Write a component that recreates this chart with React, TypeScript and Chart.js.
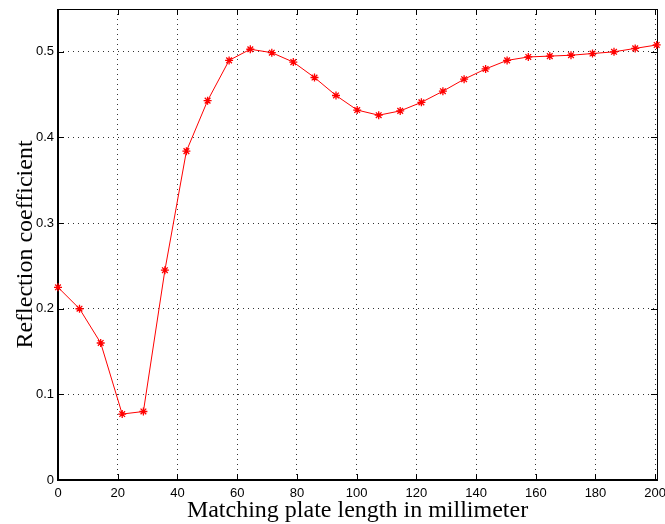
import React, { useEffect, useRef } from "react";
import { Chart, registerables } from "chart.js";

Chart.register(...registerables);

const xValues = [0, 7.2, 14.3, 21.5, 28.6, 35.8, 43.0, 50.1, 57.3, 64.4, 71.6, 78.8, 85.9, 93.1, 100.2, 107.4, 114.6, 121.7, 128.9, 136.0, 143.2, 150.4, 157.5, 164.7, 171.8, 179.0, 186.2, 193.3, 200.5];
const yValues = [0.225, 0.2, 0.16, 0.077, 0.08, 0.245, 0.384, 0.443, 0.49, 0.503, 0.499, 0.488, 0.47, 0.449, 0.432, 0.426, 0.431, 0.441, 0.454, 0.468, 0.48, 0.49, 0.494, 0.495, 0.496, 0.498, 0.5, 0.504, 0.508];
const xTitle = "Matching plate length in millimeter";
const yTitle = "Reflection coefficient";

const framePlugin = {
  id: "matlabFrame",
  beforeDatasetsDraw(chart: any) {
    const { ctx, chartArea } = chart;
    const { left, right, top, bottom } = chartArea;
    const xs = chart.scales.x;
    const ys = chart.scales.y;
    const tl = 6;
    ctx.save();
    ctx.strokeStyle = "#000";
    ctx.setLineDash([]);
    ctx.lineWidth = 1;
    xs.ticks.forEach((t: any) => {
      const px = Math.round(xs.getPixelForValue(t.value)) + 0.5;
      ctx.beginPath();
      ctx.moveTo(px, bottom);
      ctx.lineTo(px, bottom - tl);
      ctx.moveTo(px, top);
      ctx.lineTo(px, top + tl);
      ctx.stroke();
    });
    ys.ticks.forEach((t: any) => {
      const py = Math.round(ys.getPixelForValue(t.value)) + 0.5;
      ctx.beginPath();
      ctx.moveTo(left, py);
      ctx.lineTo(left + tl, py);
      ctx.moveTo(right, py);
      ctx.lineTo(right - tl, py);
      ctx.stroke();
    });
    ctx.lineWidth = 1;
    ctx.beginPath();
    ctx.moveTo(left, top + 0.5);
    ctx.lineTo(right, top + 0.5);
    ctx.moveTo(right + 0.5, top);
    ctx.lineTo(right + 0.5, bottom);
    ctx.stroke();
    ctx.lineWidth = 2;
    ctx.beginPath();
    ctx.moveTo(left, top);
    ctx.lineTo(left, bottom + 1);
    ctx.moveTo(left - 1, bottom);
    ctx.lineTo(right + 1, bottom);
    ctx.stroke();
    ctx.restore();
  },
};

export default function App() {
  const ref = useRef<HTMLCanvasElement | null>(null);
  useEffect(() => {
    document.body.style.margin = "0";
    if (!ref.current) return;
    const chart = new Chart(ref.current, {
      type: "line",
      data: {
        datasets: [
          {
            data: xValues.map((x, i) => ({ x, y: yValues[i] })),
            borderColor: "#ff0000",
            backgroundColor: "#ff0000",
            borderWidth: 1,
            pointStyle: "star",
            pointRadius: 4,
            pointBorderColor: "#ff0000",
            pointBorderWidth: 1.3,
            tension: 0,
            fill: false,
            clip: false,
          } as any,
        ],
      },
      options: {
        animation: false,
        responsive: false,
        devicePixelRatio: 1,
        layout: { padding: { left: 0, right: 8, top: 9, bottom: 0 } },
        plugins: { legend: { display: false }, tooltip: { enabled: false } },
        scales: {
          x: {
            type: "linear",
            min: 0,
            max: 200.6,
            afterFit: (s: any) => {
              s.height = 44;
              s.paddingLeft = 0;
              s.paddingRight = 0;
            },
            ticks: {
              stepSize: 20,
              includeBounds: false,
              padding: 6,
              color: "#000",
              font: { family: "Liberation Sans", size: 13 },
              maxRotation: 0,
            },
            grid: { color: "#333", lineWidth: 1, drawTicks: false },
            border: { display: false, dash: [1, 4] },
            title: {
              display: true,
              text: xTitle,
              color: "#000",
              font: { family: "Liberation Serif", size: 24, lineHeight: 1.14 },
              padding: { top: 0, bottom: 0 },
            },
          },
          y: {
            type: "linear",
            min: 0,
            max: 0.55,
            afterFit: (s: any) => {
              s.width = 58;
              s.paddingTop = 0;
              s.paddingBottom = 0;
            },
            ticks: {
              stepSize: 0.1,
              includeBounds: false,
              padding: 4,
              color: "#000",
              font: { family: "Liberation Sans", size: 13 },
              callback: (v: any) => (v === 0 ? "0" : Number(v).toFixed(1)),
            },
            grid: { color: "#333", lineWidth: 1, drawTicks: false },
            border: { display: false, dash: [1, 4] },
            title: {
              display: true,
              text: yTitle,
              color: "#000",
              font: { family: "Liberation Serif", size: 24, lineHeight: 1.14 },
              padding: { top: 12, bottom: 0 },
            },
          },
        },
      },
      plugins: [framePlugin],
    });
    return () => chart.destroy();
  }, []);
  return <canvas ref={ref} width={665} height={524} style={{ display: "block" }} />;
}
